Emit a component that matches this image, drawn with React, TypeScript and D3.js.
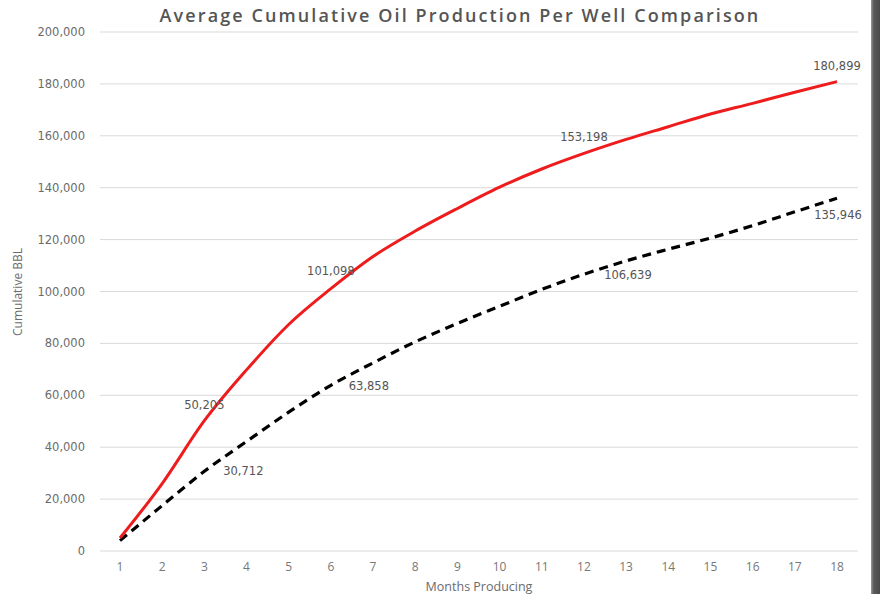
import React from "react";
import * as d3 from "d3";

const WIDTH = 880;
const HEIGHT = 594;
const MARGIN = { top: 32, right: 22, bottom: 43, left: 100 };

const months = [1, 2, 3, 4, 5, 6, 7, 8, 9, 10, 11, 12, 13, 14, 15, 16, 17, 18];
const newWells = [
  5000, 26000, 50205, 69800, 87300, 101098, 113500, 123300, 132000, 140200,
  147200, 153198, 158600, 163500, 168400, 172500, 176800, 180899,
];
const oldWells = [
  4000, 17500, 30712, 42200, 53500, 63858, 72500, 80600, 87700, 94300, 100800,
  106639, 111800, 116300, 120600, 125400, 130700, 135946,
];
const yTicks = [0, 20000, 40000, 60000, 80000, 100000, 120000, 140000, 160000, 180000, 200000];

// which points get a value label, and where it sits
const redLabels = [
  { i: 2, dx: 0, dy: -12 },
  { i: 5, dx: 0, dy: -14 },
  { i: 11, dx: 0, dy: -12 },
  { i: 17, dx: 0, dy: -12 },
];
const blackLabels = [
  { i: 2, dx: 39, dy: 4 },
  { i: 5, dx: 38, dy: 5 },
  { i: 11, dx: 44, dy: 5 },
  { i: 17, dx: 1, dy: 21 },
];

const fmt = d3.format(",");

export default function App() {
  const boundsWidth = WIDTH - MARGIN.left - MARGIN.right;
  const boundsHeight = HEIGHT - MARGIN.top - MARGIN.bottom;

  const xScale = d3.scaleLinear().domain([1, 18]).range([20, 737]);
  const yScale = d3.scaleLinear().domain([0, 200000]).range([boundsHeight, 0]);

  const line = d3
    .line<number>()
    .x((_, i) => xScale(months[i]))
    .y((d) => yScale(d))
    .curve(d3.curveMonotoneX);

  return (
    <svg
      width={WIDTH}
      height={HEIGHT}
      style={{ position: "absolute", left: 0, top: 0, background: "#fff" }}
    >
      <text
        x={460}
        y={22}
        textAnchor="middle"
        fontFamily="'Open Sans', sans-serif"
        fontWeight={600}
        fontSize={18}
        letterSpacing={2.1}
        fill="#555"
      >
        Average Cumulative Oil Production Per Well Comparison
      </text>

      <g transform={`translate(${MARGIN.left},${MARGIN.top})`}>
        {yTicks.map((t) => (
          <g key={t}>
            <line
              x1={0}
              x2={boundsWidth}
              y1={yScale(t)}
              y2={yScale(t)}
              stroke="#d9d9d9"
              strokeWidth={1}
            />
            <text
              x={-15}
              y={yScale(t)}
              dy="0.35em"
              textAnchor="end"
              fontFamily="'DejaVu Sans', sans-serif"
              fontSize={11.5}
              fill="#6b6b6b"
            >
              {fmt(t)}
            </text>
          </g>
        ))}

        {months.map((m) => (
          <text
            key={m}
            x={xScale(m)}
            y={boundsHeight + 20}
            textAnchor="middle"
            fontFamily="'Open Sans', sans-serif"
            fontSize={12}
            fill="#777"
          >
            {m}
          </text>
        ))}

        <path
          d={line(oldWells) ?? ""}
          fill="none"
          stroke="#000"
          strokeWidth={3.2}
          strokeDasharray="9,6"
        />
        <path
          d={line(newWells) ?? ""}
          fill="none"
          stroke="#ee1c1c"
          strokeWidth={3}
        />

        {redLabels.map((l) => (
          <text
            key={"r" + l.i}
            x={xScale(months[l.i]) + l.dx}
            y={yScale(newWells[l.i]) + l.dy}
            textAnchor="middle"
            fontFamily="'DejaVu Sans', sans-serif"
            fontSize={11.5}
            fill="#555"
          >
            {fmt(newWells[l.i])}
          </text>
        ))}
        {blackLabels.map((l) => (
          <text
            key={"b" + l.i}
            x={xScale(months[l.i]) + l.dx}
            y={yScale(oldWells[l.i]) + l.dy}
            textAnchor="middle"
            fontFamily="'DejaVu Sans', sans-serif"
            fontSize={11.5}
            fill="#555"
          >
            {fmt(oldWells[l.i])}
          </text>
        ))}

        <text
          x={379}
          y={boundsHeight + 40}
          textAnchor="middle"
          fontFamily="'Open Sans', sans-serif"
          fontSize={12.5}
          fill="#6b6b6b"
        >
          Months Producing
        </text>
        <text
          transform={`translate(${-78},${260}) rotate(-90)`}
          textAnchor="middle"
          fontFamily="'Open Sans', sans-serif"
          fontSize={12}
          fill="#6b6b6b"
        >
          Cumulative BBL
        </text>
      </g>

      <defs>
        <linearGradient id="edge" x1="0" x2="1" y1="0" y2="0">
          <stop offset="0" stopColor="#9a9a9a" />
          <stop offset="0.3" stopColor="#5a5a5a" />
          <stop offset="1" stopColor="#4a4a4a" />
        </linearGradient>
      </defs>
      <rect x={871} y={0} width={9} height={HEIGHT} fill="url(#edge)" />
    </svg>
  );
}
